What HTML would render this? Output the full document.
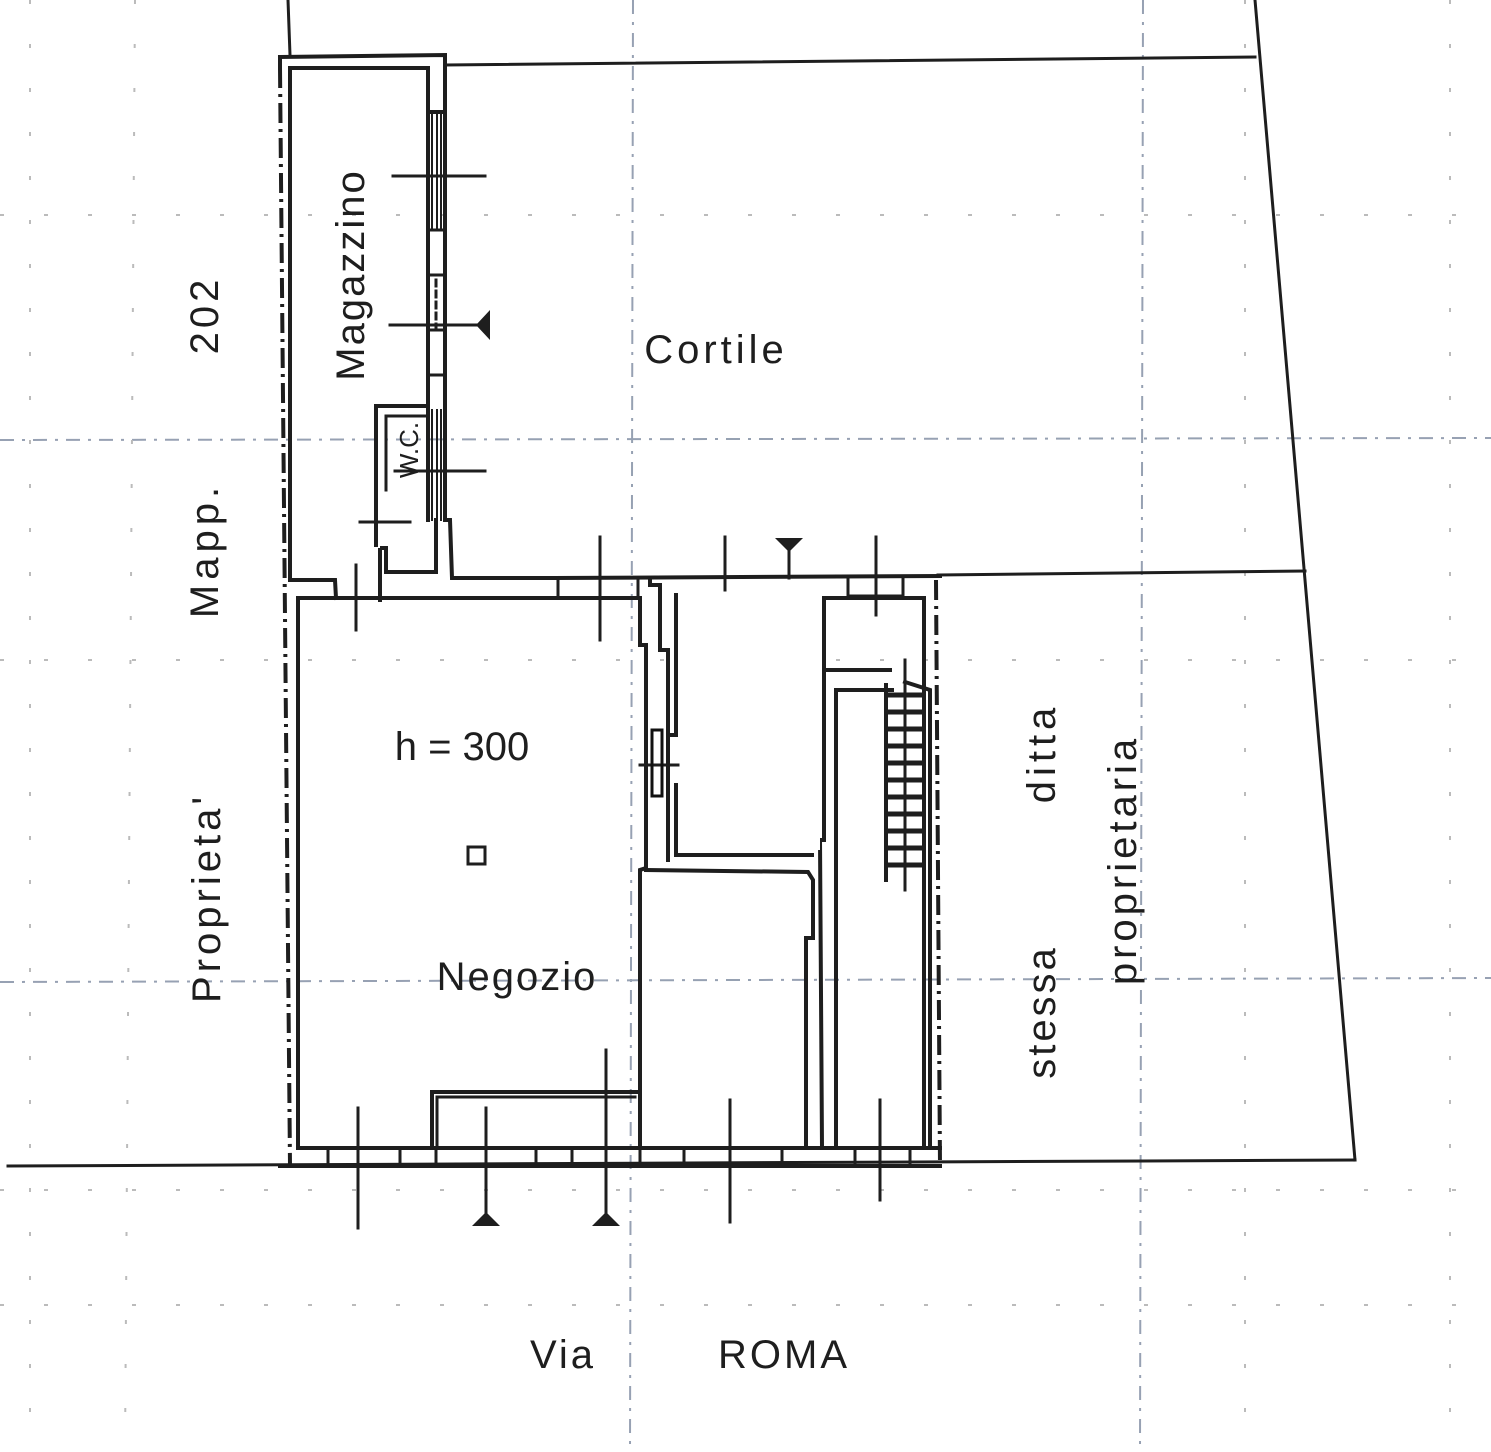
<!DOCTYPE html>
<html><head><meta charset="utf-8"><style>
html,body{margin:0;padding:0;background:#fff;}
svg{display:block;}
text{font-family:"Liberation Sans","DejaVu Sans",sans-serif;fill:#1e1e1e;}
</style></head><body>
<svg width="1491" height="1452" viewBox="0 0 1491 1452" xmlns="http://www.w3.org/2000/svg">
<rect width="1491" height="1452" fill="#fff"/>
<!-- faint grid -->
<g stroke="#7d8aa0" stroke-width="2" stroke-dasharray="14 8 3 8" fill="none" opacity="0.8">
<line x1="0" y1="440" x2="1491" y2="438"/>
<line x1="0" y1="982" x2="1491" y2="978"/>
<line x1="633" y1="0" x2="630" y2="1452"/>
<line x1="1143" y1="0" x2="1140" y2="1452"/>
</g>
<g stroke="#bbb" stroke-width="2" stroke-dasharray="4 40" fill="none">
<line x1="135" y1="0" x2="125" y2="1452"/>
<line x1="1245" y1="0" x2="1245" y2="1452"/>
<line x1="0" y1="1305" x2="1491" y2="1305"/>
<line x1="0" y1="660" x2="1491" y2="660"/>
<line x1="0" y1="215" x2="1491" y2="215"/>
<line x1="0" y1="1190" x2="1491" y2="1190"/>
<line x1="30" y1="0" x2="30" y2="1452"/>
<line x1="1450" y1="0" x2="1450" y2="1452"/>
</g>
<g stroke="#1e1e1e" stroke-width="4" fill="none" stroke-linecap="square">
<!-- boundaries -->
<line x1="8" y1="1166" x2="1355" y2="1160" stroke-width="3"/>
<line x1="1255" y1="0" x2="1355" y2="1160" stroke-width="3"/>
<line x1="445" y1="65" x2="1255" y2="57" stroke-width="3"/>
<line x1="938" y1="575" x2="1305" y2="571" stroke-width="3"/>
<line x1="288" y1="0" x2="290" y2="55" stroke-width="3"/>
<!-- magazzino -->
<polyline points="280,57 445,55 445,112"/>
<line x1="280" y1="57" x2="280" y2="68"/>
<polyline points="290,68 428,68 428,112"/>
<line x1="290" y1="68" x2="290" y2="580"/>
<line x1="428" y1="112" x2="445" y2="112"/>
<line x1="428" y1="112" x2="428" y2="520"/>
<line x1="445" y1="112" x2="445" y2="520"/>
<line x1="432" y1="112" x2="432" y2="230" stroke-width="2"/><line x1="437" y1="112" x2="437" y2="230" stroke-width="2"/><line x1="441" y1="112" x2="441" y2="230" stroke-width="2"/>
<rect x="428" y="230" width="17" height="45" stroke-width="3"/>
<rect x="428" y="330" width="17" height="45" stroke-width="3"/>
<line x1="436" y1="280" x2="436" y2="330" stroke-dasharray="6 5" stroke-width="3"/>
<line x1="432" y1="410" x2="432" y2="520" stroke-width="2"/><line x1="437" y1="410" x2="437" y2="520" stroke-width="2"/><line x1="441" y1="410" x2="441" y2="520" stroke-width="2"/>
<polyline points="445,520 450,520 452,578 555,578"/>
<polyline points="436,520 436,572 386,572 386,548 382,548"/>
<polyline points="428,406 376,406 376,545"/>
<polyline points="428,416 386,416 386,490" stroke-width="3"/>
<polyline points="290,580 335,580 336,598"/>
<polyline points="380,550 380,600"/>
<!-- negozio -->
<line x1="298" y1="598" x2="298" y2="1148"/>
<line x1="298" y1="598" x2="558" y2="598"/>
<line x1="298" y1="1148" x2="328" y2="1148"/>
<line x1="280" y1="1166" x2="940" y2="1166"/>
<polyline points="555,578 940,576"/>
<polyline points="558,598 640,598 640,645 646,645 646,868 640,870 640,1148"/>
<polyline points="650,578 650,585 660,585 660,650 668,650 668,860"/>
<!-- corridor -->
<polyline points="676,595 676,735 668,735"/>
<polyline points="676,785 676,855 812,855"/>
<polyline points="646,870 808,872 813,880 813,938 806,938 806,1148 660,1148"/>
<line x1="326" y1="1148" x2="940" y2="1148"/>
<!-- right rooms -->
<polyline points="824,598 824,840 820,840 822,1148 930,1148 930,690 905,682"/>
<polyline points="836,692 836,1145"/>
<polyline points="836,690 892,690"/>
<polyline points="824,598 924,598 924,1148"/>
<polyline points="824,670 890,670"/>
<line x1="886" y1="685" x2="886" y2="880"/>
<!-- bottom wall windows -->
<rect x="328" y="1148" width="72" height="18" stroke-width="3"/>
<rect x="400" y="1148" width="36" height="18" stroke-width="3"/>
<rect x="536" y="1148" width="36" height="18" stroke-width="3"/>
<rect x="640" y="1148" width="44" height="18" stroke-width="3"/>
<rect x="684" y="1148" width="98" height="18" stroke-width="3"/>
<rect x="855" y="1148" width="55" height="18" stroke-width="3"/>
<rect x="558" y="578" width="80" height="20" stroke-width="3"/>
<rect x="848" y="576" width="55" height="20" stroke-width="3"/>
<polyline points="432,1145 432,1092 640,1092 640,1145"/>
<polyline points="437,1145 437,1097 635,1097" stroke-width="3"/>
<!-- section/cut lines -->
<g stroke-width="3">
<line x1="393" y1="176" x2="485" y2="176"/>
<line x1="390" y1="325" x2="485" y2="325"/>
<line x1="395" y1="471" x2="485" y2="471"/>
<line x1="360" y1="522" x2="410" y2="522"/>
<line x1="356" y1="565" x2="356" y2="630"/>
<line x1="600" y1="537" x2="600" y2="640"/>
<line x1="725" y1="537" x2="725" y2="590"/>
<line x1="876" y1="537" x2="876" y2="615"/>
<line x1="789" y1="545" x2="789" y2="578"/>
<line x1="358" y1="1108" x2="358" y2="1228"/>
<line x1="486" y1="1108" x2="486" y2="1215"/>
<line x1="606" y1="1050" x2="606" y2="1215"/>
<line x1="730" y1="1100" x2="730" y2="1222"/>
<line x1="880" y1="1100" x2="880" y2="1200"/>
<line x1="640" y1="765" x2="678" y2="765"/>
<line x1="905" y1="660" x2="905" y2="890"/>
</g>
</g>
<!-- stairs -->
<g stroke="#1e1e1e" stroke-width="5">
<line x1="888" y1="695" x2="925" y2="695"/><line x1="888" y1="712" x2="925" y2="712"/><line x1="888" y1="729" x2="925" y2="729"/><line x1="888" y1="746" x2="925" y2="746"/><line x1="888" y1="763" x2="925" y2="763"/><line x1="888" y1="780" x2="925" y2="780"/><line x1="888" y1="797" x2="925" y2="797"/><line x1="888" y1="814" x2="925" y2="814"/><line x1="888" y1="831" x2="925" y2="831"/><line x1="888" y1="848" x2="925" y2="848"/><line x1="888" y1="865" x2="925" y2="865"/>
</g>
<!-- dash-dot property lines -->
<g stroke="#1e1e1e" stroke-width="4" stroke-dasharray="20 6 3 6" fill="none">
<line x1="280" y1="68" x2="290" y2="1166"/>
<line x1="936" y1="580" x2="940" y2="1166"/>
</g>
<rect x="652" y="730" width="10" height="66" fill="none" stroke="#111" stroke-width="3"/>
<rect x="468" y="847" width="17" height="17" fill="none" stroke="#1e1e1e" stroke-width="3"/>
<!-- triangles -->
<g fill="#1e1e1e">
<polygon points="486,1212 472,1226 500,1226"/>
<polygon points="606,1212 592,1226 620,1226"/>
<polygon points="476,325 490,310 490,340"/>
<polygon points="775,538 803,538 789,552"/>
</g>
<!-- blank area -->
<rect x="680" y="598" width="140" height="252" fill="#fff"/>
<!-- texts -->
<text x="716" y="363" font-size="40" text-anchor="middle" letter-spacing="4">Cortile</text>
<text x="517" y="990" font-size="40" text-anchor="middle" letter-spacing="2">Negozio</text>
<text x="462" y="760" font-size="40" text-anchor="middle">h = 300</text>
<text x="563" y="1368" font-size="40" text-anchor="middle" letter-spacing="3">Via</text>
<text x="784" y="1368" font-size="40" text-anchor="middle" letter-spacing="3">ROMA</text>
<text transform="translate(364,275) rotate(-90)" font-size="40" text-anchor="middle" letter-spacing="2">Magazzino</text>
<text transform="translate(418,450) rotate(-90)" font-size="26" text-anchor="middle">W.C.</text>
<text transform="translate(218,315) rotate(-90)" font-size="40" text-anchor="middle" letter-spacing="4">202</text>
<text transform="translate(218,550) rotate(-90)" font-size="40" text-anchor="middle" letter-spacing="5">Mapp.</text>
<text transform="translate(220,898) rotate(-90)" font-size="40" text-anchor="middle" letter-spacing="4">Proprieta'</text>
<text transform="translate(1055,1012) rotate(-90)" font-size="40" text-anchor="middle" letter-spacing="3">stessa</text>
<text transform="translate(1055,753) rotate(-90)" font-size="40" text-anchor="middle" letter-spacing="5">ditta</text>
<text transform="translate(1136,860) rotate(-90)" font-size="40" text-anchor="middle" letter-spacing="4">proprietaria</text>
</svg>
</body></html>
